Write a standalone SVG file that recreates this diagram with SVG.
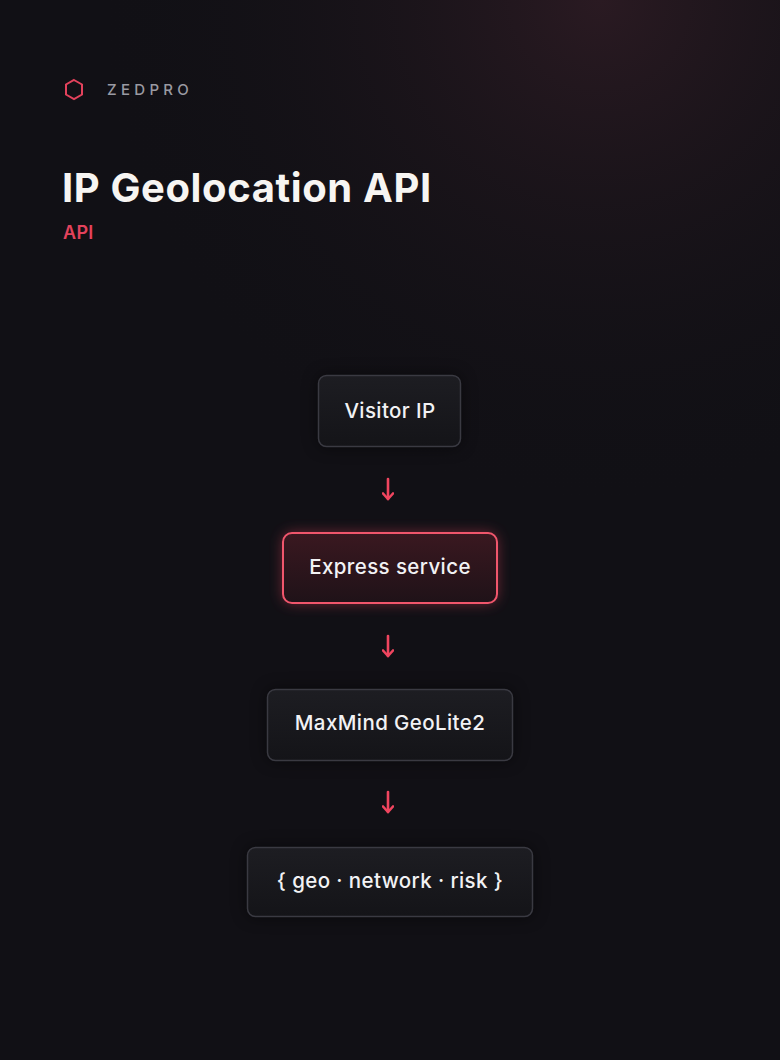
<svg xmlns="http://www.w3.org/2000/svg" width="780" height="1060" viewBox="0 0 780 1060">
<defs>
<radialGradient id="bgglow" cx="600" cy="0" r="500" gradientUnits="userSpaceOnUse">
<stop offset="0" stop-color="#2a1a22"/><stop offset="1" stop-color="#121116" stop-opacity="0"/>
</radialGradient>
<linearGradient id="node" x1="0" y1="0" x2="0" y2="1"><stop offset="0" stop-color="#1d1d22"/><stop offset="1" stop-color="#141418"/></linearGradient>
<linearGradient id="hot" x1="0" y1="0" x2="0" y2="1"><stop offset="0" stop-color="#3a1820"/><stop offset="1" stop-color="#1f1218"/></linearGradient>
<filter id="glow" x="-30%" y="-60%" width="160%" height="220%"><feGaussianBlur stdDeviation="7"/></filter>
<filter id="shadow" x="-30%" y="-60%" width="160%" height="220%"><feGaussianBlur stdDeviation="8"/></filter>
<marker id="ah" viewBox="0 0 10 12" refX="8" refY="6" markerWidth="10" markerHeight="12" markerUnits="userSpaceOnUse" orient="auto">
<path d="M2.5,1 L8,6 L2.5,11" fill="none" stroke="#f0455f" stroke-width="2.6" stroke-linecap="round" stroke-linejoin="round"/></marker>
<style>
.n{fill:url(#node);stroke:#3a3a42;stroke-width:1.5}
.t{font-family:Inter,"Open Sans",sans-serif;font-size:20.5px;font-weight:500;fill:#f2f2f4;text-anchor:middle;letter-spacing:0.4px}
.c{stroke:#f0455f;stroke-width:2.6;fill:none;stroke-linecap:round}
</style>
</defs>
<rect width="780" height="1060" fill="#111015"/>
<rect width="780" height="1060" fill="url(#bgglow)"/>
<g id="brand">
<polygon points="74,80 82,84.5 82,94.5 74,99 66,94.5 66,84.5" fill="none" stroke="#e3425c" stroke-width="2"/>
<text x="107" y="95" font-family="Inter,sans-serif" font-size="15" font-weight="500" letter-spacing="4.3" fill="#9a9aa2">ZEDPRO</text>
</g>
<g id="title">
<text x="62" y="202" font-family="Inter,sans-serif" font-size="40" font-weight="700" fill="#f7f5f2" letter-spacing="0.6">IP Geolocation API</text>
<text x="63" y="239" font-family="Inter,sans-serif" font-size="18" font-weight="600" fill="#e3425c" letter-spacing="0.3">API</text>
</g>
<g id="connectors">
<path class="c" d="M388,479 V499" marker-end="url(#ah)"/>
<path class="c" d="M388,636 V656" marker-end="url(#ah)"/>
<path class="c" d="M388,792 V812" marker-end="url(#ah)"/>
</g>
<g id="visitor">
<rect x="318" y="375" width="143" height="72" rx="8" fill="#000" opacity="0.5" filter="url(#shadow)"/>
<rect class="n" x="318.5" y="375.5" width="142" height="71" rx="8"/>
<text class="t" x="390" y="418">Visitor IP</text>
</g>
<g id="express">
<rect x="283" y="533" width="214" height="70" rx="9" fill="#f0455f" opacity="0.45" filter="url(#glow)"/>
<rect x="283" y="533" width="214" height="70" rx="9" fill="url(#hot)" stroke="#f0566c" stroke-width="2"/>
<text class="t" x="390" y="574">Express service</text>
</g>
<g id="maxmind">
<rect x="267" y="689" width="246" height="72" rx="8" fill="#000" opacity="0.5" filter="url(#shadow)"/>
<rect class="n" x="267.5" y="689.5" width="245" height="71" rx="8"/>
<text class="t" x="390" y="730">MaxMind GeoLite2</text>
</g>
<g id="output">
<rect x="247" y="847" width="286" height="70" rx="8" fill="#000" opacity="0.5" filter="url(#shadow)"/>
<rect class="n" x="247.5" y="847.5" width="285" height="69" rx="8"/>
<text class="t" x="390" y="888">{ geo · network · risk }</text>
</g>
</svg>
